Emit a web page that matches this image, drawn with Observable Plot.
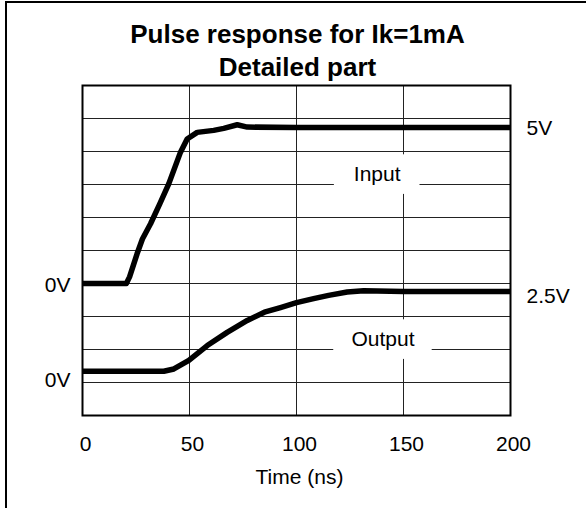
<!DOCTYPE html>
<html>
<head>
<meta charset="utf-8">
<script src="https://cdn.jsdelivr.net/npm/d3@7"></script>
<script src="https://cdn.jsdelivr.net/npm/@observablehq/plot@0.6"></script>
<style>
  html, body { margin: 0; padding: 0; background: #fff; }
  #wrap { position: relative; width: 586px; height: 508px; overflow: hidden; }
  #edge { position: absolute; left: 5px; top: 1px; width: 600px; height: 600px;
          border-left: 2px solid #000; border-top: 2px solid #000; pointer-events: none; }
  svg { font-family: "Liberation Sans", Arial, sans-serif; }
</style>
</head>
<body>
<div id="wrap"><div id="edge"></div></div>
<script>
// Time axis (ns) and vertical grid
const xTicks = [0, 50, 100, 150, 200];
// Horizontal grid in screen divisions (10 divisions)
const yGrid = [1, 2, 3, 4, 5, 6, 7, 8, 9];

// Input trace: time (ns), level in divisions
const inputT = [0, 20.5, 22, 25.5, 28, 31.8, 36, 40.3, 45.8, 48.9, 53.6, 61.3, 66, 72.3, 77, 100, 150, 200];
const inputV = [4.0, 4.0, 4.2, 4.9, 5.35, 5.81, 6.4, 7.02, 7.98, 8.38, 8.58, 8.64, 8.7, 8.81, 8.74, 8.73, 8.73, 8.73];

// Output trace: time (ns), level in divisions
const outputT = [0, 38, 42.7, 49.7, 58.3, 67.6, 77, 85, 92.5, 100, 108, 115, 123.7, 131.4, 150, 200];
const outputV = [1.34, 1.34, 1.41, 1.67, 2.12, 2.52, 2.88, 3.13, 3.27, 3.42, 3.54, 3.64, 3.74, 3.78, 3.76, 3.76];

// Level labels
const leftLabels = ["0V", "0V"];
const leftLevels = [3.95, 1.06];
const rightLabels = ["5V", "2.5V"];
const rightLevels = [8.71, 3.6];

// Trace names
const traceNames = ["Input", "Output"];
const traceT = [137.7, 140.4];
const traceLevel = [7.3, 2.3];
const boxHalfT = [20, 23];
const boxHalfLevel = [0.6, 0.6];

const title = "Pulse response for Ik=1mA";
const subtitle = "Detailed part";
const xLabel = "Time (ns)";

const inputData = inputT.map((t, i) => ({t, v: inputV[i]}));
const outputData = outputT.map((t, i) => ({t, v: outputV[i]}));
const left = leftLabels.map((label, i) => ({label, v: leftLevels[i]}));
const right = rightLabels.map((label, i) => ({label, v: rightLevels[i]}));
const names = traceNames.map((label, i) => ({label, t: traceT[i], v: traceLevel[i], ht: boxHalfT[i], hv: boxHalfLevel[i]}));

const chart = Plot.plot({
  width: 586,
  height: 508,
  marginLeft: 82,
  marginRight: 76,
  marginTop: 85,
  marginBottom: 93,
  style: {fontFamily: "'Liberation Sans', Arial, sans-serif", fontSize: "21px", color: "#000", background: "#fff"},
  x: {domain: [0, 200], ticks: xTicks},
  y: {domain: [0, 10], axis: null},
  marks: [
    Plot.ruleY(yGrid, {stroke: "#222", strokeWidth: 1}),
    Plot.ruleX(xTicks.slice(1, -1), {stroke: "#222", strokeWidth: 1}),
    Plot.rect(names, {x1: d => d.t - d.ht, x2: d => d.t + d.ht, y1: d => d.v - d.hv, y2: d => d.v + d.hv, fill: "#fff"}),
    Plot.text(names, {x: "t", y: "v", text: "label", fontSize: 21, fill: "#000"}),
    Plot.line(inputData, {x: "t", y: "v", stroke: "#000", strokeWidth: 5.5, strokeLinejoin: "round", strokeLinecap: "butt"}),
    Plot.line(outputData, {x: "t", y: "v", stroke: "#000", strokeWidth: 5.5, strokeLinejoin: "round", strokeLinecap: "butt"}),
    Plot.frame({stroke: "#000", strokeWidth: 2}),
    Plot.axisX({ticks: xTicks, tickSize: 0, tickPadding: 21, dx: 3, fontSize: 21, label: null}),
    Plot.text(left, {y: "v", text: "label", frameAnchor: "left", textAnchor: "end", dx: -12, fontSize: 21}),
    Plot.text(right, {y: "v", text: "label", frameAnchor: "right", textAnchor: "start", dx: 16, fontSize: 21}),
    Plot.text([xLabel], {text: d => d, frameAnchor: "bottom", lineAnchor: "middle", dy: 61.5, dx: 3, fontSize: 21}),
    Plot.text([title], {text: d => d, frameAnchor: "top", lineAnchor: "middle", dy: -51, dx: 1, fontSize: 26, fontWeight: "bold"}),
    Plot.text([subtitle], {text: d => d, frameAnchor: "top", lineAnchor: "middle", dy: -18, dx: 1, fontSize: 26, fontWeight: "bold"})
  ]
});
document.getElementById("wrap").prepend(chart);
</script>
</body>
</html>
